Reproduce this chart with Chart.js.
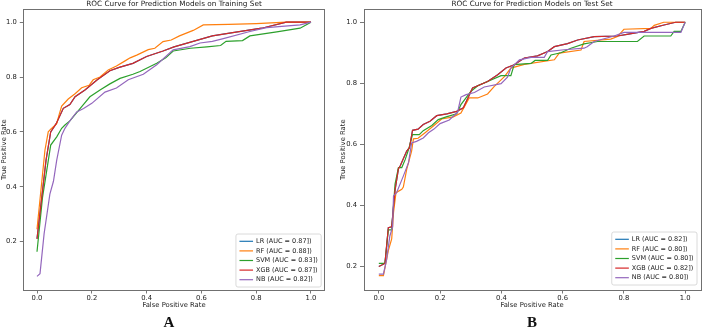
<!DOCTYPE html>
<html>
<head>
<meta charset="utf-8">
<script src="https://cdn.jsdelivr.net/npm/chart.js@4.4.0/dist/chart.umd.min.js"></script>
<style>
  html, body { margin: 0; padding: 0; background: #fff; }
  #wrap { position: relative; width: 702px; height: 328px; overflow: hidden; }
  canvas { position: absolute; top: 0; }
  #cA { left: 0; }
  #cB { left: 335px; }
  .tag { position: absolute; width: 40px; text-align: center; font: bold 15px "Liberation Serif", serif; line-height: 15px; color: #111; }
</style>
</head>
<body>
<div id="wrap">
  <canvas id="cA" width="330" height="328"></canvas>
  <canvas id="cB" width="367" height="328"></canvas>
  <div class="tag" style="left:149px; top:315px">A</div>
  <div class="tag" style="left:512px; top:315px">B</div>
</div>
<script>
// ---- data ----
const models = ['LR', 'RF', 'SVM', 'XGB', 'NB']
const colors = ['#1f77b4', '#ff7f0e', '#2ca02c', '#d62728', '#9467bd']
const aucTrain = ['0.87', '0.88', '0.83', '0.87', '0.82']
const aucTest = ['0.82', '0.80', '0.80', '0.82', '0.80']
const xTicks = [0, 0.2, 0.4, 0.6, 0.8, 1.0]
const yTicks = [0.2, 0.4, 0.6, 0.8, 1.0]

// training set
const trainFprRF = [0, 0.029, 0.041, 0.05, 0.072, 0.08, 0.09, 0.114, 0.14, 0.163, 0.19, 0.205, 0.23, 0.26, 0.29, 0.32, 0.34, 0.364, 0.406, 0.43, 0.46, 0.49, 0.52, 0.57, 0.607, 0.7, 0.8, 0.91, 1.0]
const trainTprRF = [0.245, 0.533, 0.60, 0.61, 0.63, 0.66, 0.694, 0.72, 0.74, 0.761, 0.77, 0.79, 0.80, 0.826, 0.84, 0.858, 0.87, 0.88, 0.90, 0.905, 0.929, 0.935, 0.95, 0.97, 0.99, 0.992, 0.995, 1.0, 1.0]
const trainFprXGB = [0, 0.033, 0.05, 0.07, 0.096, 0.12, 0.139, 0.175, 0.22, 0.266, 0.30, 0.35, 0.40, 0.46, 0.5, 0.57, 0.64, 0.72, 0.82, 0.91, 1.0]
const trainTprXGB = [0.21, 0.497, 0.60, 0.63, 0.686, 0.70, 0.728, 0.753, 0.79, 0.823, 0.835, 0.85, 0.875, 0.895, 0.91, 0.93, 0.95, 0.963, 0.978, 1.0, 1.0]
const trainFprLR = [0, 0.033, 0.05, 0.07, 0.096, 0.12, 0.139, 0.175, 0.22, 0.266, 0.30, 0.35, 0.40, 0.46, 0.5, 0.57, 0.64, 0.72, 0.82, 0.91, 1.0]
const trainTprLR = [0.21, 0.497, 0.60, 0.63, 0.686, 0.70, 0.728, 0.753, 0.79, 0.823, 0.835, 0.85, 0.875, 0.895, 0.91, 0.93, 0.95, 0.963, 0.978, 1.0, 1.0]
const trainFprSVM = [0, 0.02, 0.05, 0.072, 0.09, 0.102, 0.12, 0.145, 0.17, 0.193, 0.23, 0.266, 0.303, 0.35, 0.376, 0.437, 0.47, 0.497, 0.56, 0.62, 0.67, 0.69, 0.75, 0.777, 0.875, 0.96, 1.0]
const trainTprSVM = [0.163, 0.36, 0.552, 0.582, 0.613, 0.625, 0.64, 0.67, 0.70, 0.728, 0.753, 0.775, 0.795, 0.81, 0.82, 0.85, 0.87, 0.895, 0.905, 0.91, 0.915, 0.93, 0.933, 0.95, 0.965, 0.978, 1.0]
const trainFprNB = [0, 0.011, 0.026, 0.047, 0.06, 0.072, 0.09, 0.102, 0.12, 0.145, 0.17, 0.2, 0.248, 0.29, 0.333, 0.388, 0.437, 0.497, 0.558, 0.595, 0.64, 0.68, 0.777, 0.838, 0.96, 1.0]
const trainTprNB = [0.073, 0.083, 0.229, 0.373, 0.42, 0.497, 0.588, 0.613, 0.64, 0.673, 0.685, 0.704, 0.745, 0.76, 0.79, 0.81, 0.845, 0.899, 0.911, 0.924, 0.93, 0.94, 0.966, 0.98, 0.99, 1.0]

// test set
const testFprRF = [0, 0.015, 0.031, 0.042, 0.048, 0.056, 0.075, 0.08, 0.091, 0.107, 0.113, 0.128, 0.151, 0.178, 0.205, 0.243, 0.268, 0.295, 0.323, 0.355, 0.377, 0.41, 0.431, 0.475, 0.573, 0.589, 0.66, 0.67, 0.757, 0.779, 0.80, 0.888, 0.899, 0.93, 1.0]
const testTprRF = [0.17, 0.17, 0.252, 0.29, 0.377, 0.442, 0.453, 0.46, 0.518, 0.578, 0.618, 0.62, 0.638, 0.66, 0.683, 0.69, 0.703, 0.752, 0.752, 0.765, 0.79, 0.822, 0.85, 0.862, 0.877, 0.899, 0.909, 0.937, 0.945, 0.953, 0.977, 0.98, 0.99, 1.0, 1.0]
const testFprXGB = [0, 0.02, 0.031, 0.042, 0.053, 0.064, 0.07, 0.091, 0.10, 0.11, 0.128, 0.145, 0.167, 0.189, 0.222, 0.254, 0.276, 0.306, 0.355, 0.388, 0.415, 0.442, 0.475, 0.518, 0.551, 0.573, 0.616, 0.649, 0.703, 0.779, 0.81, 0.866, 0.888, 0.931, 0.969, 1.0]
const testTprXGB = [0.20, 0.21, 0.327, 0.33, 0.45, 0.52, 0.53, 0.578, 0.589, 0.646, 0.65, 0.665, 0.676, 0.694, 0.70, 0.708, 0.72, 0.785, 0.806, 0.828, 0.85, 0.861, 0.883, 0.89, 0.904, 0.92, 0.93, 0.942, 0.953, 0.955, 0.96, 0.97, 0.98, 0.991, 1.0, 1.0]
const testFprLR = [0, 0.02, 0.031, 0.042, 0.053, 0.064, 0.07, 0.091, 0.10, 0.11, 0.128, 0.145, 0.167, 0.189, 0.222, 0.254, 0.276, 0.306, 0.355, 0.388, 0.415, 0.442, 0.475, 0.518, 0.551, 0.573, 0.616, 0.649, 0.703, 0.779, 0.81, 0.866, 0.888, 0.931, 0.969, 1.0]
const testTprLR = [0.20, 0.21, 0.327, 0.33, 0.45, 0.52, 0.53, 0.578, 0.589, 0.646, 0.65, 0.665, 0.676, 0.694, 0.70, 0.708, 0.72, 0.785, 0.806, 0.828, 0.85, 0.861, 0.883, 0.89, 0.904, 0.92, 0.93, 0.942, 0.953, 0.955, 0.96, 0.97, 0.98, 0.991, 1.0, 1.0]
const testFprSVM = [0, 0.02, 0.031, 0.042, 0.053, 0.064, 0.075, 0.086, 0.097, 0.11, 0.132, 0.145, 0.173, 0.194, 0.22, 0.254, 0.268, 0.301, 0.323, 0.355, 0.399, 0.431, 0.442, 0.497, 0.51, 0.551, 0.562, 0.594, 0.627, 0.67, 0.714, 0.844, 0.866, 0.953, 0.964, 0.986, 1.0]
const testTprSVM = [0.21, 0.21, 0.32, 0.32, 0.47, 0.524, 0.524, 0.55, 0.583, 0.632, 0.632, 0.645, 0.662, 0.681, 0.69, 0.70, 0.73, 0.774, 0.792, 0.806, 0.825, 0.825, 0.861, 0.865, 0.875, 0.875, 0.893, 0.90, 0.915, 0.929, 0.937, 0.937, 0.955, 0.955, 0.97, 0.97, 1.0]
const testFprNB = [0, 0.015, 0.025, 0.036, 0.045, 0.048, 0.058, 0.069, 0.08, 0.097, 0.107, 0.123, 0.145, 0.162, 0.18, 0.2, 0.23, 0.257, 0.268, 0.285, 0.312, 0.344, 0.399, 0.42, 0.431, 0.459, 0.497, 0.54, 0.551, 0.605, 0.67, 0.68, 0.703, 0.768, 0.80, 0.986, 1.0]
const testTprNB = [0.175, 0.175, 0.22, 0.30, 0.33, 0.431, 0.442, 0.469, 0.496, 0.54, 0.605, 0.61, 0.621, 0.638, 0.65, 0.668, 0.68, 0.705, 0.755, 0.763, 0.77, 0.788, 0.799, 0.82, 0.85, 0.877, 0.885, 0.885, 0.904, 0.91, 0.915, 0.92, 0.937, 0.955, 0.967, 0.967, 1.0]

const FONT = '"DejaVu Sans", sans-serif'
const TEXT = '#222'

// box round the plot area, like matplotlib spines
const frame = {
  id: 'frame',
  afterDatasetsDraw(chart) {
    const { ctx, chartArea: a } = chart
    ctx.save()
    ctx.strokeStyle = '#707070'
    ctx.lineWidth = 1
    ctx.strokeRect(Math.round(a.left) + 0.5, Math.round(a.top) + 0.5, Math.round(a.right - a.left), Math.round(a.bottom - a.top))
    ctx.restore()
  }
}

// legend in the lower right corner of the plot area
const insideLegend = {
  id: 'insideLegend',
  afterDraw(chart, args, opts) {
    const { ctx, chartArea: a } = chart
    const sets = chart.data.datasets
    ctx.save()
    ctx.font = opts.fontSize + 'px "DejaVu Sans"'
    const textW = Math.max(...sets.map(d => ctx.measureText(d.label).width))
    const w = opts.pad + opts.lineLen + opts.gap + textW + opts.pad
    const h = opts.rowH * sets.length + opts.padY * 2
    const x = a.right - opts.right - w
    const y = a.bottom - opts.bottom - h
    ctx.beginPath()
    ctx.roundRect(x, y, w, h, 2)
    ctx.fillStyle = 'rgba(255,255,255,0.85)'
    ctx.fill()
    ctx.strokeStyle = '#d0d0d0'
    ctx.lineWidth = 0.8
    ctx.stroke()
    sets.forEach((d, i) => {
      const cy = y + opts.padY + opts.rowH * (i + 0.5)
      ctx.beginPath()
      ctx.moveTo(x + opts.pad, cy)
      ctx.lineTo(x + opts.pad + opts.lineLen, cy)
      ctx.strokeStyle = d.borderColor
      ctx.lineWidth = 1.2
      ctx.stroke()
      ctx.fillStyle = TEXT
      ctx.textBaseline = 'middle'
      ctx.textAlign = 'left'
      ctx.fillText(d.label, x + opts.pad + opts.lineLen + opts.gap, cy)
    })
    ctx.restore()
  }
}

function makeSets(fprs, tprs, aucs) {
  return models.map((m, i) => ({
    label: m + ' (AUC = ' + aucs[i] + '])',
    data: fprs[i].map((x, j) => ({ x: x, y: tprs[i][j] })),
    borderColor: colors[i],
    backgroundColor: colors[i],
    borderWidth: 1.2,
    pointRadius: 0,
    tension: 0,
    order: models.length - 1 - i
  }))
}

function makeChart(id, opts) {
  const ctx = document.getElementById(id).getContext('2d')
  return new Chart(ctx, {
    type: 'line',
    data: { datasets: opts.sets },
    plugins: [frame, insideLegend],
    options: {
      responsive: false,
      animation: false,
      devicePixelRatio: 1,
      layout: { padding: { left: 0, right: opts.padRight, top: 0, bottom: opts.padBottom } },
      scales: {
        x: {
          type: 'linear',
          min: -0.05,
          max: 1.05,
          afterBuildTicks: s => { s.ticks = xTicks.map(v => ({ value: v })) },
          afterFit: s => { s.height = 26.8 },
          border: { display: false },
          grid: { drawOnChartArea: false, drawTicks: true, tickLength: 3.5, color: '#555', lineWidth: 0.8 },
          ticks: { font: { family: FONT, size: 6.8 }, color: TEXT, padding: 0.5, maxRotation: 0, callback: v => v.toFixed(1) },
          title: { display: true, text: 'False Positive Rate', font: { family: FONT, size: 6.8 }, color: TEXT, padding: { top: 0, bottom: 7 } }
        },
        y: {
          type: 'linear',
          min: opts.yMin,
          max: opts.yMax,
          afterBuildTicks: s => { s.ticks = yTicks.map(v => ({ value: v })) },
          afterFit: s => { s.width = opts.yWidth },
          border: { display: false },
          grid: { drawOnChartArea: false, drawTicks: true, tickLength: 3.5, color: '#555', lineWidth: 0.8 },
          ticks: { font: { family: FONT, size: 6.8 }, color: TEXT, padding: 3, callback: v => v.toFixed(1) },
          title: { display: true, text: 'True Positive Rate', font: { family: FONT, size: 6.8 }, color: TEXT, padding: { top: opts.yTitlePad, bottom: 0 } }
        }
      },
      plugins: {
        legend: { display: false },
        tooltip: { enabled: false },
        title: {
          display: true,
          text: opts.title,
          fullSize: false,
          color: TEXT,
          font: { family: FONT, size: 7.3, weight: 'normal', lineHeight: 1.1 },
          padding: { top: 0, bottom: 1.4 }
        },
        insideLegend: { fontSize: 6.5, pad: 3.5, lineLen: 13.6, gap: 3, rowH: 9.6, padY: 2.5, right: 3.5, bottom: opts.legendBottom }
      }
    }
  })
}

makeChart('cA', {
  title: 'ROC Curve for Prediction Models on Training Set',
  sets: makeSets(
    [trainFprLR, trainFprRF, trainFprSVM, trainFprXGB, trainFprNB],
    [trainTprLR, trainTprRF, trainTprSVM, trainTprXGB, trainTprNB],
    aucTrain),
  yMin: 0.0235, yMax: 1.0465,
  yWidth: 23.3, yTitlePad: 0,
  padRight: 5.3, padBottom: 11.2,
  legendBottom: 3
})

makeChart('cB', {
  title: 'ROC Curve for Prediction Models on Test Set',
  sets: makeSets(
    [testFprLR, testFprRF, testFprSVM, testFprXGB, testFprNB],
    [testTprLR, testTprRF, testTprSVM, testTprXGB, testTprNB],
    aucTest),
  yMin: 0.123, yMax: 1.042,
  yWidth: 28.5, yTitlePad: 4,
  padRight: 1.5, padBottom: 11.2,
  legendBottom: 5
})
</script>
</body>
</html>
